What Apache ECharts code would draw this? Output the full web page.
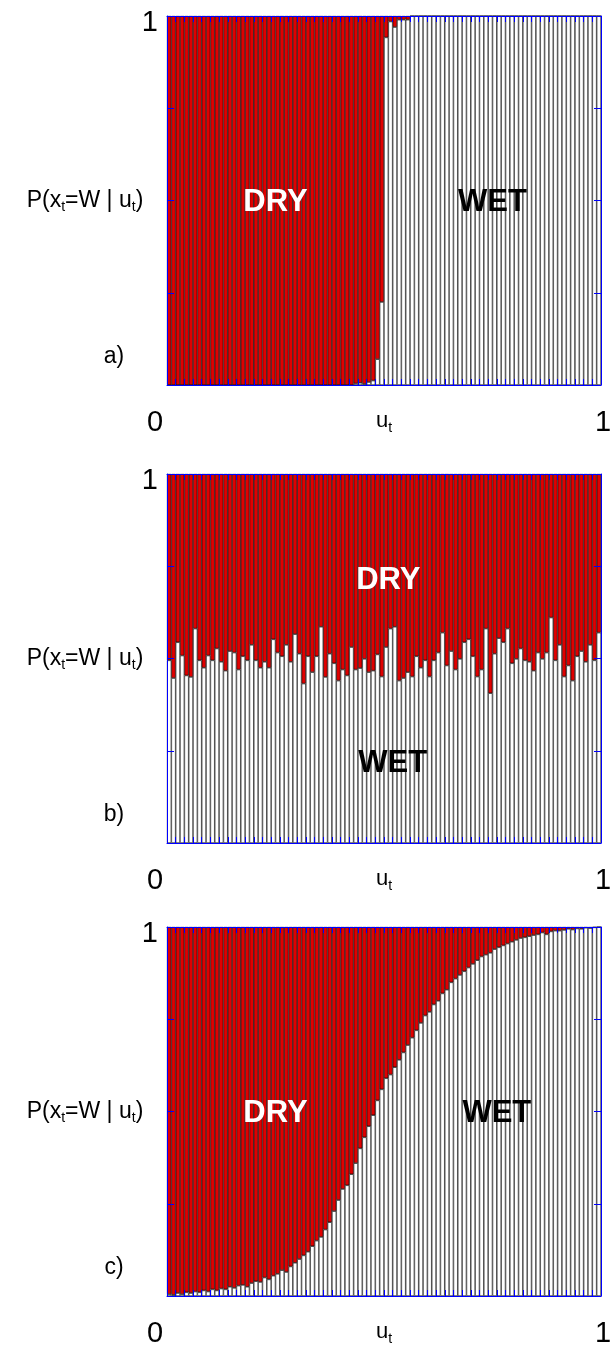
<!DOCTYPE html>
<html><head><meta charset="utf-8">
<script src="https://cdn.jsdelivr.net/npm/echarts@6/dist/echarts.min.js"></script>
<style>html,body{margin:0;padding:0;background:#fff}#c{width:610px;height:1346px}</style>
</head><body><div id="c"></div>
<script>
// 100 bins of u_t in [0,1]
const categories = [];
for (let i = 0; i < 100; i++) categories.push(((i + 0.5) / 100).toFixed(3));

// P(x_t = W | u_t) per bin, panel a
const wetA = [
 0,0,0,0,0,0,0,0,0,0,
 0,0,0,0,0,0,0,0,0,0,
 0,0,0,0,0,0,0,0,0,0,
 0,0,0,0,0,0,0,0,0,0,
 0,0,0,0.004,0.006,0.003,0.008,0.012,0.07,0.225,
 0.942,0.985,0.97,0.99,0.99,0.99,1,1,1,1,
 1,1,1,1,1,1,1,1,1,1,
 1,1,1,1,1,1,1,1,1,1,
 1,1,1,1,1,1,1,1,1,1,
 1,1,1,1,1,1,1,1,1,1
];
// panel b
const wetB = [
 0.495,0.447,0.544,0.508,0.454,0.45,0.581,0.495,0.475,0.508,
 0.495,0.527,0.491,0.467,0.52,0.516,0.47,0.506,0.495,0.537,
 0.495,0.475,0.491,0.475,0.552,0.516,0.506,0.537,0.491,0.566,
 0.513,0.432,0.506,0.463,0.506,0.586,0.45,0.513,0.487,0.44,
 0.47,0.454,0.531,0.47,0.474,0.499,0.463,0.467,0.511,0.451,
 0.531,0.581,0.586,0.44,0.447,0.463,0.451,0.506,0.475,0.495,
 0.451,0.495,0.516,0.57,0.481,0.52,0.47,0.499,0.544,0.552,
 0.506,0.451,0.47,0.581,0.406,0.513,0.555,0.544,0.581,0.487,
 0.499,0.527,0.495,0.491,0.467,0.516,0.499,0.516,0.611,0.495,
 0.537,0.451,0.481,0.44,0.506,0.52,0.491,0.537,0.495,0.57
];
// panel c
const wetC = [
 0.005,0.003,0.008,0.005,0.01,0.008,0.012,0.01,0.015,0.012,
 0.018,0.015,0.02,0.018,0.025,0.022,0.028,0.03,0.025,0.035,
 0.04,0.038,0.05,0.045,0.055,0.06,0.07,0.065,0.08,0.09,
 0.1,0.11,0.12,0.135,0.15,0.16,0.18,0.2,0.23,0.26,
 0.29,0.3,0.33,0.36,0.4,0.43,0.46,0.49,0.53,0.56,
 0.59,0.6,0.62,0.64,0.66,0.68,0.7,0.72,0.74,0.76,
 0.77,0.79,0.8,0.82,0.83,0.85,0.86,0.87,0.88,0.89,
 0.9,0.91,0.92,0.925,0.93,0.94,0.945,0.95,0.955,0.96,
 0.965,0.97,0.972,0.975,0.978,0.98,0.985,0.98,0.988,0.99,
 0.99,0.992,0.995,0.993,0.996,0.995,0.998,0.997,0.999,1
];
const panels = [wetA, wetB, wetC];
const panelTags = ['a)', 'b)', 'c)'];
const xTickLabels = ['0', '1'];
const yTickLabels = ['1'];
const dryWetLabels = [
  {dry: [0.25, 0.5], wet: [0.75, 0.5]},
  {dry: [0.51, 0.717], wet: [0.52, 0.22]},
  {dry: [0.25, 0.5], wet: [0.76, 0.5]}
];

const BLUE = '#0000ff', RED = '#e00000';
const gridTops = [16, 474, 927], gridH = 369;
const chart = echarts.init(document.getElementById('c'), null, {renderer: 'canvas'});
const grid = [], xAxis = [], yAxis = [], series = [];
panels.forEach((wet, k) => {
  grid.push({left: 167, right: 9, top: gridTops[k], height: gridH, containLabel: false});
  xAxis.push({type: 'category', gridIndex: k, data: categories, show: false, boundaryGap: true});
  const valX = pos => ({
    type: 'value', gridIndex: k, min: 0, max: 1, interval: 0.02, position: pos, z: 10,
    axisLine: {show: true, onZero: false, lineStyle: {color: BLUE, width: 1}},
    axisTick: {show: true, inside: true, length: 6, lineStyle: {color: BLUE, width: 1}},
    axisLabel: {show: false}, splitLine: {show: false}
  });
  xAxis.push(valX('bottom'), valX('top'));
  const valY = pos => ({
    type: 'value', gridIndex: k, min: 0, max: 1, interval: 0.25, position: pos, z: 10,
    axisLine: {show: true, onZero: false, lineStyle: {color: BLUE, width: 1}},
    axisTick: {show: true, inside: true, length: 7, lineStyle: {color: BLUE, width: 1}},
    axisLabel: {show: false}, splitLine: {show: false}
  });
  yAxis.push(valY('left'), valY('right'));
  const dry = wet.map(v => +(1 - v).toFixed(4));
  series.push({
    type: 'bar', xAxisIndex: 3 * k, yAxisIndex: 2 * k, stack: 's' + k, data: wet,
    barCategoryGap: '0%', itemStyle: {color: '#ffffff', borderColor: '#000', borderWidth: 0.6},
    silent: true, animation: false
  }, {
    type: 'bar', xAxisIndex: 3 * k, yAxisIndex: 2 * k, stack: 's' + k, data: dry,
    barCategoryGap: '0%', itemStyle: {color: RED, borderColor: '#000', borderWidth: 0.6},
    silent: true, animation: false
  });
});
chart.setOption({animation: false, grid, xAxis, yAxis, series});

const FONT = '"Liberation Sans", Arial, Helvetica, sans-serif';
const graphic = [];
panels.forEach((wet, k) => {
  const px = (x, y) => chart.convertToPixel({xAxisIndex: 3 * k + 1, yAxisIndex: 2 * k}, [x, y]);
  const top = px(0, 1), mid = px(0, 0.5);
  graphic.push({type: 'text', x: top[0] - 9, y: top[1] + 7, z: 20,
    style: {text: yTickLabels[0], font: '29px ' + FONT, fill: '#000', align: 'right', verticalAlign: 'middle'}});
  const p0 = px(0, 0), p1 = px(1, 0);
  graphic.push({type: 'text', x: p0[0] - 12, y: p0[1] + 38, z: 20,
    style: {text: xTickLabels[0], font: '29px ' + FONT, fill: '#000', align: 'center', verticalAlign: 'middle'}});
  graphic.push({type: 'text', x: p1[0] + 2, y: p1[1] + 38, z: 20,
    style: {text: xTickLabels[1], font: '29px ' + FONT, fill: '#000', align: 'center', verticalAlign: 'middle'}});
  graphic.push({type: 'text', x: 384, y: p0[1] + 36, z: 20,
    style: {text: '{n|u}{s|t}', align: 'center', verticalAlign: 'middle',
      rich: {n: {fontSize: 22, fontFamily: FONT, fill: '#000', lineHeight: 28},
             s: {fontSize: 14, fontFamily: FONT, fill: '#000', lineHeight: 28, padding: [14, 0, 0, 0]}}}});
  graphic.push({type: 'text', x: 85, y: mid[1], z: 20,
    style: {text: '{n|P(x}{s|t}{n|=W | u}{s|t}{n|)}', align: 'center', verticalAlign: 'middle',
      rich: {n: {fontSize: 23, fontFamily: FONT, fill: '#000', lineHeight: 28},
             s: {fontSize: 14, fontFamily: FONT, fill: '#000', lineHeight: 28, padding: [13, 0, 0, 0]}}}});
  graphic.push({type: 'text', x: 114, y: p0[1] - 28, z: 20,
    style: {text: panelTags[k], font: '23px ' + FONT, fill: '#000', align: 'center', verticalAlign: 'middle'}});
  const d = px(dryWetLabels[k].dry[0], dryWetLabels[k].dry[1]);
  const w = px(dryWetLabels[k].wet[0], dryWetLabels[k].wet[1]);
  graphic.push({type: 'text', x: d[0], y: d[1] + 2, z: 20,
    style: {text: 'DRY', font: 'bold 31px ' + FONT, fill: '#fff', align: 'center', verticalAlign: 'middle'}});
  graphic.push({type: 'text', x: w[0], y: w[1] + 2, z: 20,
    style: {text: 'WET', font: 'bold 31px ' + FONT, fill: '#000', align: 'center', verticalAlign: 'middle'}});
});
chart.setOption({graphic});
</script></body></html>
